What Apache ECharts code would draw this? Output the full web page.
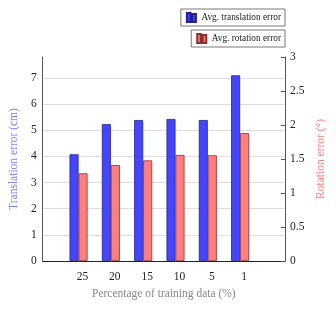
<!DOCTYPE html>
<html><head><meta charset="utf-8">
<script src="https://cdn.jsdelivr.net/npm/echarts@6/dist/echarts.min.js"></script>
<style>html,body{margin:0;padding:0;background:#fff}#c{width:336px;height:309px}</style>
</head><body><div id="c"></div>
<script>
const categories = ['25', '20', '15', '10', '5', '1'];
const translationError = [4.08, 5.23, 5.39, 5.43, 5.39, 7.10];
const rotationError = [1.29, 1.41, 1.48, 1.56, 1.555, 1.88];
const leftTicks = [0, 1, 2, 3, 4, 5, 6, 7];
const rightTicks = [0, 0.5, 1, 1.5, 2, 2.5, 3];

const F = 'Liberation Serif, DejaVu Serif, serif';
const blueData = translationError.map((v, i) => [i, v]);
const redData = rotationError.map((v, i) => [i, v]);
const barIcon = 'path://M0,0h4v10h-4z M6,1h4v9h-4z';

const legendBase = {orient: 'horizontal', right: 51,
  borderColor: '#555', borderWidth: 0.8, padding: [3, 4, 3, 5], borderRadius: 0,
  itemWidth: 10, itemHeight: 9, itemGap: 5, icon: barIcon,
  textStyle: {fontFamily: F, fontSize: 9.3, color: '#222'}};

const chart = echarts.init(document.getElementById('c'), null, {renderer: 'canvas'});
chart.setOption({
  animation: false,
  grid: {left: 42, right: 51, top: 57, bottom: 48},
  legend: [
    Object.assign({}, legendBase, {data: ['Avg. translation error'], top: 9}),
    Object.assign({}, legendBase, {data: ['Avg. rotation error'], top: 30})
  ],
  xAxis: {
    type: 'value', min: -1.111, max: 6.389,
    name: 'Percentage of training data (%)', nameLocation: 'middle', nameGap: 22,
    nameTextStyle: {fontFamily: F, fontSize: 11.5, color: '#888'},
    axisLine: {show: true, onZero: false, lineStyle: {color: '#222', width: 1}},
    axisTick: {show: false},
    splitLine: {show: false},
    axisLabel: {customValues: categories.map((c, i) => i), formatter: v => categories[Math.round(v)] ?? '',
      fontFamily: F, fontSize: 11.5, color: '#222', margin: 10, padding: [0, 0, 0, 8]}
  },
  yAxis: [
    {type: 'value', min: 0, max: 7.8, interval: 1, position: 'left',
     name: 'Translation error (cm)', nameLocation: 'middle', nameGap: 18,
     nameTextStyle: {fontFamily: F, fontSize: 11.5, color: '#8080ff'},
     axisLine: {show: true, onZero: false, lineStyle: {color: '#555', width: 1}},
     axisTick: {show: false},
     splitLine: {show: true, showMaxLine: false, lineStyle: {color: '#ddd', width: 1}},
     axisLabel: {customValues: leftTicks, fontFamily: F, fontSize: 11.5, color: '#222', margin: 6}},
    {type: 'value', min: 0, max: 3, interval: 0.5, position: 'right',
     name: 'Rotation error (°)', nameLocation: 'middle', nameGap: 26, nameRotate: 90,
     nameTextStyle: {fontFamily: F, fontSize: 11.5, color: '#ff8080'},
     axisLine: {show: true, onZero: false, lineStyle: {color: '#555', width: 1}},
     axisTick: {show: true, inside: true, length: 4, lineStyle: {color: '#555'}},
     splitLine: {show: false},
     axisLabel: {customValues: rightTicks, fontFamily: F, fontSize: 11.5, color: '#222', margin: 5}}
  ],
  series: [
    {name: 'Avg. translation error', type: 'bar', xAxisIndex: 0, yAxisIndex: 0,
     data: blueData, barWidth: 9, barGap: '0%',
     itemStyle: {color: '#4545ff', borderColor: '#22228a', borderWidth: 0.8}},
    {name: 'Avg. rotation error', type: 'bar', xAxisIndex: 0, yAxisIndex: 1,
     data: redData, barWidth: 9, barGap: '0%',
     itemStyle: {color: '#ff7f7f', borderColor: '#8a3030', borderWidth: 0.8}}
  ]
});
</script></body></html>
